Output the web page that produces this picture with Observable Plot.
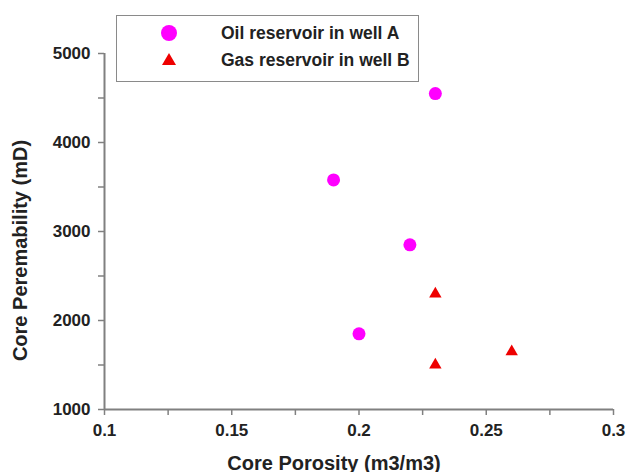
<!DOCTYPE html>
<html><head><meta charset="utf-8">
<script src="https://cdn.jsdelivr.net/npm/d3@7"></script>
<script src="https://cdn.jsdelivr.net/npm/@observablehq/plot@0.6"></script>
<style>
body{margin:0;background:#fff;}
#wrap{position:relative;width:630px;height:472px;overflow:hidden;}
#legend{position:absolute;left:116px;top:15px;width:303px;height:67px;border:1px solid #8a8a8a;box-sizing:border-box;background:#fff;font:bold 17.5px "Liberation Sans",Arial,sans-serif;color:#222;}
.row{position:absolute;left:0;height:20px;width:100%;}
.row svg{position:absolute;left:40px;top:0;}
.row span{position:absolute;left:104px;top:0;line-height:20px;white-space:nowrap;}
</style></head><body><div id="wrap"></div>
<script>
const oilPorosity = [0.23, 0.19, 0.22, 0.20];
const oilPerm = [4550, 3580, 2850, 1850];
const gasPorosity = [0.23, 0.23, 0.26];
const gasPerm = [2300, 1500, 1650];
const seriesNames = ["Oil reservoir in well A", "Gas reservoir in well B"];
const seriesColors = ["#ff00ff", "#ee0000"];
const xTicks = [0.1, 0.15, 0.2, 0.25, 0.3];
const xMinor = [0.125, 0.175, 0.225, 0.275];
const yTicks = [1000, 2000, 3000, 4000, 5000];
const yMinor = [1500, 2500, 3500, 4500];
const xLabel = "Core Porosity (m3/m3)";
const yLabel = "Core Peremability (mD)";

const oil = oilPorosity.map((p, i) => ({porosity: p, perm: oilPerm[i]}));
const gas = gasPorosity.map((p, i) => ({porosity: p, perm: gasPerm[i]}));
const axisColor = "#808080";
const font = '"Liberation Sans", Arial, sans-serif';

const chart = Plot.plot({
  width: 630, height: 472,
  marginLeft: 104, marginRight: 17, marginTop: 53, marginBottom: 63,
  x: {domain: [0.1, 0.3]},
  y: {domain: [1000, 5000]},
  style: {fontFamily: font, fontSize: "17px", fontWeight: "bold", color: "#222", background: "#fff"},
  marks: [
    Plot.axisX(xTicks, {tickSize: 6, tickPadding: 8, tickFormat: d => String(d), label: null, stroke: axisColor, strokeWidth: 1.5, fill: "#222", fontSize: 17, fontWeight: "bold"}),
    Plot.axisX(xMinor, {tickSize: 6, tickFormat: () => "", label: null, stroke: axisColor, strokeWidth: 1.5}),
    Plot.axisY(yTicks, {tickSize: 6, tickPadding: 8, tickFormat: d => String(d), label: null, stroke: axisColor, strokeWidth: 1.5, fill: "#222", fontSize: 17, fontWeight: "bold"}),
    Plot.axisY(yMinor, {tickSize: 6, tickFormat: () => "", label: null, stroke: axisColor, strokeWidth: 1.5}),
    Plot.ruleY([1000], {stroke: axisColor, strokeWidth: 2}),
    Plot.ruleX([0.1], {stroke: axisColor, strokeWidth: 2}),
    Plot.dot(oil, {x: "porosity", y: "perm", symbol: "circle", r: 6.5, fill: seriesColors[0], stroke: null}),
    Plot.dot(gas, {x: "porosity", y: "perm", symbol: "triangle", r: 4.6, fill: seriesColors[1], stroke: null}),
    Plot.text([xLabel], {text: d => d, frameAnchor: "bottom", textAnchor: "middle", lineAnchor: "bottom", dx: -25, dy: 60, fontSize: 20, fontWeight: "bold", fill: "#222"}),
    Plot.text([yLabel], {text: d => d, frameAnchor: "left", textAnchor: "middle", lineAnchor: "middle", rotate: -90, dx: -84, dy: 19, fontSize: 20, fontWeight: "bold", fill: "#222"})
  ]
});

const wrap = document.getElementById("wrap");
wrap.appendChild(chart);

const legend = document.createElement("div");
legend.id = "legend";
const symbols = [
  c => `<svg width="24" height="20"><circle cx="12" cy="10" r="8" fill="${c}"/></svg>`,
  c => `<svg width="24" height="20"><path d="M12,3L19,15L5,15Z" fill="${c}"/></svg>`
];
const rowTops = [7, 34];
seriesNames.forEach((name, i) => {
  const row = document.createElement("div");
  row.className = "row";
  row.style.top = rowTops[i] + "px";
  row.innerHTML = symbols[i](seriesColors[i]) + `<span>${name}</span>`;
  legend.appendChild(row);
});
wrap.appendChild(legend);
</script>
</body></html>
